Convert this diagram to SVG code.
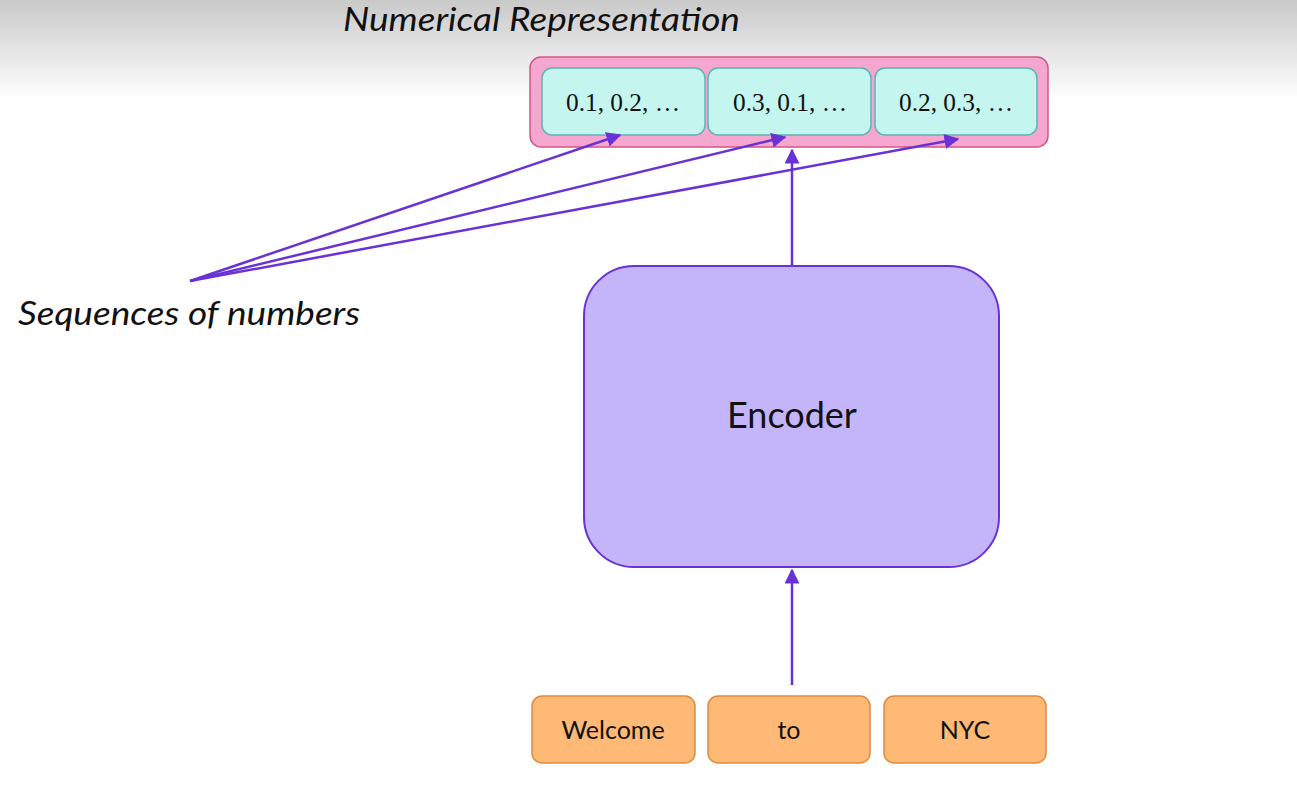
<svg xmlns="http://www.w3.org/2000/svg" width="1297" height="795" viewBox="0 0 1297 795">
<defs>
<linearGradient id="bg" x1="0" y1="0" x2="0" y2="1">
<stop offset="0" stop-color="#c9c9c9"/>
<stop offset="1" stop-color="#ffffff"/>
</linearGradient>
<marker id="ah" viewBox="0 0 10 10" refX="9" refY="5" markerWidth="6" markerHeight="6" markerUnits="strokeWidth" orient="auto">
<path d="M0,0 L10,5 L0,10 z" fill="#6a32d4"/>
</marker>
<style>
.cell{fill:#c4f5ef;stroke:#5bb5b3;stroke-width:1.5}
.num{font-family:"Liberation Serif","DejaVu Serif",serif;font-size:25px;fill:#111;text-anchor:middle}
.tok{fill:#fdb975;stroke:#e08a3e;stroke-width:1.5}
.toktxt{font-family:"Lato","Open Sans",sans-serif;font-size:25px;fill:#111;text-anchor:middle}
.lbl{font-family:"Lato","Open Sans",sans-serif;font-style:italic;font-size:32px;fill:#111}
.conn{stroke:#6a32d4;stroke-width:2.5;fill:none;marker-end:url(#ah)}
</style>
</defs>
<rect x="0" y="0" width="1297" height="795" fill="#ffffff"/>
<rect x="0" y="0" width="1297" height="100" fill="url(#bg)"/>
<text class="lbl" x="343" y="31" textLength="397" lengthAdjust="spacingAndGlyphs">Numerical Representation</text>
<text class="lbl" x="18" y="325" textLength="342" lengthAdjust="spacingAndGlyphs">Sequences of numbers</text>
<g id="numrep">
<rect x="530" y="57" width="518" height="90" rx="11" fill="#f5a7cf" stroke="#d35585" stroke-width="1.5"/>
</g>
<g id="vec1">
<rect class="cell" x="542" y="68" width="163" height="67" rx="10"/>
<text class="num" x="623" y="111" textLength="114" lengthAdjust="spacingAndGlyphs">0.1, 0.2, …</text>
</g>
<g id="vec2">
<rect class="cell" x="708" y="68" width="163" height="67" rx="10"/>
<text class="num" x="790" y="111" textLength="114" lengthAdjust="spacingAndGlyphs">0.3, 0.1, …</text>
</g>
<g id="vec3">
<rect class="cell" x="875" y="68" width="162" height="67" rx="10"/>
<text class="num" x="956" y="111" textLength="114" lengthAdjust="spacingAndGlyphs">0.2, 0.3, …</text>
</g>
<g id="encoder">
<rect x="584" y="266" width="415" height="301" rx="50" fill="#c4b5fb" stroke="#6a32d4" stroke-width="2"/>
<text x="792" y="428" font-family="Lato, 'Open Sans', sans-serif" font-size="36" fill="#111" text-anchor="middle">Encoder</text>
</g>
<g id="tok1">
<rect class="tok" x="532" y="696" width="163" height="67" rx="10"/>
<text class="toktxt" x="613" y="739">Welcome</text>
</g>
<g id="tok2">
<rect class="tok" x="708" y="696" width="162" height="67" rx="10"/>
<text class="toktxt" x="789" y="739">to</text>
</g>
<g id="tok3">
<rect class="tok" x="884" y="696" width="162" height="67" rx="10"/>
<text class="toktxt" x="965" y="739">NYC</text>
</g>
<g id="connectors">
<line class="conn" x1="792" y1="685" x2="792" y2="570"/>
<line class="conn" x1="792" y1="266" x2="792" y2="150"/>
<line class="conn" x1="190" y1="281" x2="620" y2="135"/>
<line class="conn" x1="190" y1="281" x2="785" y2="137"/>
<line class="conn" x1="190" y1="281" x2="958" y2="139"/>
</g>
</svg>
